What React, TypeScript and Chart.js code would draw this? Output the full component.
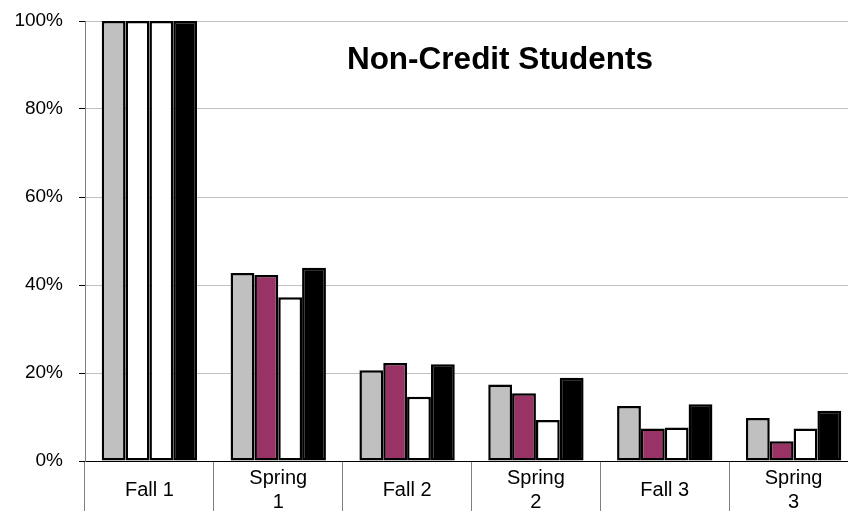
import React, { useEffect, useRef } from "react";
import { Chart, registerables } from "chart.js";

Chart.register(...registerables);

const categories: (string | string[])[] = ["Fall 1", ["Spring", "1"], "Fall 2", ["Spring", "2"], "Fall 3", ["Spring", "3"]];
const seriesGray = [100, 42.7, 20.6, 17.4, 12.5, 9.8];
const seriesMaroon = [100, 42.3, 22.3, 15.4, 7.4, 4.5];
const seriesWhite = [100, 37.2, 14.6, 9.3, 7.6, 7.4];
const seriesBlack = [100, 43.9, 22.0, 18.9, 12.9, 11.4];
const maroonFills = ["#ffffff", "#993366", "#993366", "#993366", "#993366", "#993366"];
const yTicks = [0, 20, 40, 60, 80, 100];
const titleText = "Non-Credit Students";

const FONT = "'Liberation Sans', Arial, sans-serif";

const titlePlugin = {
  id: "insideTitle",
  afterDraw(chart: any) {
    const ctx = chart.ctx;
    ctx.save();
    ctx.font = `bold 31.5px ${FONT}`;
    ctx.fillStyle = "#000";
    ctx.textAlign = "center";
    ctx.textBaseline = "alphabetic";
    ctx.fillText(titleText, 500, 69);
    ctx.restore();
  },
};

export default function App() {
  const ref = useRef<HTMLCanvasElement>(null);
  useEffect(() => {
    if (!ref.current) return;
    const common = { borderColor: "#000", borderWidth: 2.5, borderSkipped: false as any };
    const chart = new Chart(ref.current, {
      type: "bar",
      data: {
        labels: categories as any,
        datasets: [
          { label: "A", data: seriesGray, backgroundColor: "#c0c0c0", ...common },
          { label: "B", data: seriesMaroon, backgroundColor: maroonFills, ...common },
          { label: "C", data: seriesWhite, backgroundColor: "#ffffff", ...common },
          { label: "D", data: seriesBlack, backgroundColor: "#000000", ...common },
        ],
      },
      options: {
        responsive: false,
        animation: false,
        categoryPercentage: 0.74,
        barPercentage: 1.0,
        layout: { padding: { top: 0, left: 0, right: 0, bottom: 0 } },
        plugins: { legend: { display: false }, tooltip: { enabled: false }, title: { display: false } },
        scales: {
          x: {
            offset: true,
            border: { display: true, color: "#000", width: 1 },
            grid: {
              display: true,
              drawOnChartArea: false,
              drawTicks: true,
              tickLength: 50,
              color: "#808080",
              lineWidth: 1,
              offset: true,
            },
            ticks: {
              color: "#000",
              font: { family: FONT, size: 20 },
              padding: -33,
              crossAlign: "center" as any,
              maxRotation: 0,
              autoSkip: false,
            },
            afterFit(scale: any) {
              scale.height = 50;
            },
          },
          y: {
            min: 0,
            max: 100,
            border: { display: true, color: "#808080", width: 1 },
            grid: {
              color: (c: any) => (c.tick && c.tick.value === 0 ? "#000" : "#c0c0c0"),
              tickColor: "#000",
              tickLength: 6,
              lineWidth: 1,
            },
            afterBuildTicks(scale: any) {
              scale.ticks = yTicks.map((v) => ({ value: v }));
            },
            ticks: {
              color: "#000",
              font: { family: FONT, size: 19 },
              padding: 16,
              callback: (v: any) => `${v}%`,
            },
            afterFit(scale: any) {
              scale.width = 85;
              scale.paddingTop = 21;
              scale.paddingBottom = 0;
            },
          },
        },
      },
      plugins: [titlePlugin],
    });
    return () => chart.destroy();
  }, []);
  return (
    <div style={{ position: "absolute", left: 0, top: 0, width: 848, height: 511, overflow: "hidden", background: "#fff" }}>
      <canvas ref={ref} width={858} height={511} style={{ width: 858, height: 511, display: "block" }} />
    </div>
  );
}
